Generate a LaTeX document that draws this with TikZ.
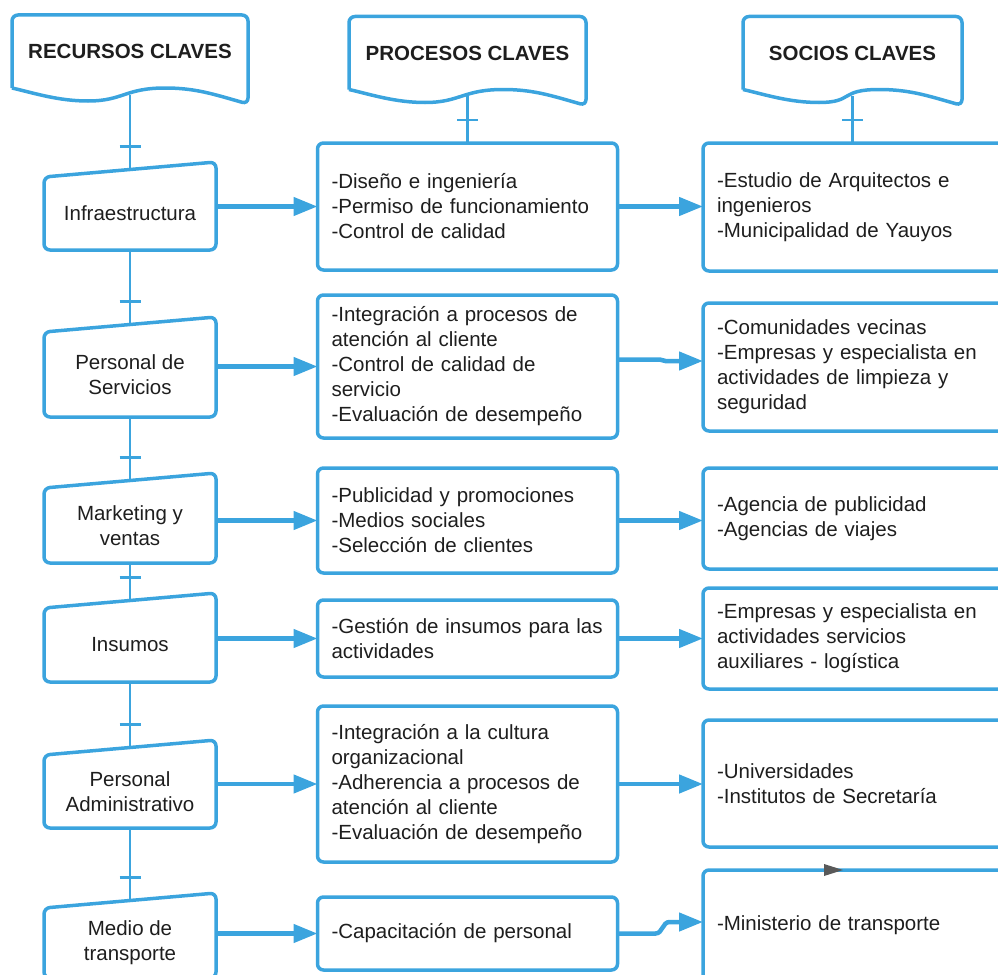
\documentclass[tikz,border=0pt]{standalone}
\usepackage{fontspec}
\setmainfont{Liberation Sans}
\usepackage{tikz}
\usetikzlibrary{arrows.meta, positioning, calc, decorations.markings}
\definecolor{keyblue}{HTML}{3BA4DE}
\definecolor{inkgray}{HTML}{1E1E1E}

\begin{document}
\begin{tikzpicture}[
    x=1pt, y=-1pt,
    font=\fontsize{20.5pt}{25pt}\selectfont,
    header/.style={rectangle, text=inkgray, font=\fontsize{20.5pt}{25pt}\selectfont\bfseries, minimum height=73pt, inner sep=0pt, outer sep=0pt},
    resource/.style={rectangle, text=inkgray, align=center, minimum width=172pt, inner sep=0pt, outer sep=0pt},
    box/.style={rectangle, draw=keyblue, line width=3.5pt, rounded corners=6pt, text=inkgray, align=left, inner xsep=14pt, inner ysep=0pt, outer sep=0pt},
    midbox/.style={box, text width=272pt},
    partnerbox/.style={box, text width=280pt},
    outline/.style={draw=keyblue, line width=3.5pt},
    tickline/.style={draw=keyblue, line width=2.5pt, postaction={decorate},
        decoration={markings, mark=at position -23pt with {\draw[keyblue, line width=2.5pt] (0,-10.5pt) -- (0,10.5pt);}}},
    arr/.style={draw=keyblue, line width=4.5pt, -{Triangle[length=24pt, width=18pt]}},
]
\useasboundingbox (0,0) rectangle (998,974);
\clip (0,0) rectangle (998,974);

% Column headers
\node[header, minimum width=236pt] (rec) at (130,51.5) {RECURSOS CLAVES};
\node[header, minimum width=237pt] (pro) at (467.5,53) {PROCESOS CLAVES};
\node[header, minimum width=219pt] (soc) at (852.5,53) {SOCIOS CLAVES};

% Key resources
\node[resource, minimum height=73pt] (l1) at (130,213.5) {Infraestructura};
\node[resource, minimum height=85pt] (l2) at (130,374.5) {Personal de\\Servicios};
\node[resource, minimum height=75pt] (l3) at (130,525.5) {Marketing y\\ventas};
\node[resource, minimum height=74pt] (l4) at (130,645) {Insumos};
\node[resource, minimum height=73pt] (l5) at (130,791.5) {Personal\\Administrativo};
\node[resource, minimum height=70pt] (l6) at (130,943) {Medio de\\transporte};

% Key processes
\node[midbox, minimum height=127pt] (m1) at (467.5,206.5) {-Diseño e ingeniería\\-Permiso de funcionamiento\\-Control de calidad};
\node[midbox, minimum height=143pt] (m2) at (467.5,366.5) {-Integración a procesos de\\atención al cliente\\-Control de calidad de\\servicio\\-Evaluación de desempeño};
\node[midbox, minimum height=105pt] (m3) at (467.5,520.5) {-Publicidad y promociones\\-Medios sociales\\-Selección de clientes};
\node[midbox, minimum height=77pt] (m4) at (467.5,638.5) {-Gestión de insumos para las\\actividades};
\node[midbox, minimum height=156pt] (m5) at (467.5,784) {-Integración a la cultura\\organizacional\\-Adherencia a procesos de\\atención al cliente\\-Evaluación de desempeño};
\node[midbox, minimum height=73pt] (m6) at (467.5,933.5) {-Capacitación de personal};

% Key partners
\node[partnerbox, minimum height=128pt] (r1) at (857,207) {-Estudio de Arquitectos e\\ingenieros\\-Municipalidad de Yauyos};
\node[partnerbox, minimum height=128pt] (r2) at (857,367) {-Comunidades vecinas\\-Empresas y especialista en\\actividades de limpieza y\\seguridad};
\node[partnerbox, minimum height=101pt] (r3) at (857,518.5) {-Agencia de publicidad\\-Agencias de viajes};
\node[partnerbox, minimum height=101pt] (r4) at (857,638.5) {-Empresas y especialista en\\actividades servicios\\auxiliares - logística};
\node[partnerbox, minimum height=127pt] (r5) at (857,783.5) {-Universidades\\-Institutos de Secretaría};
\node[partnerbox, minimum height=110pt] (r6) at (857,925) {-Ministerio de transporte};

% Document shapes
\foreach \h in {rec,pro,soc}
  \draw[outline] (\h.south west) [rounded corners=6pt] -- (\h.north west) -- (\h.north east) -- ($(\h.south east)+(0,16)$) [sharp corners]
    .. controls +(-35,-10) and +(30,0) .. ($(\h.south east)+(-83,0)$)
    .. controls +(-40,0) and +(35,0) .. ($(\h.south west)+(76,13)$)
    .. controls +(-30,0) and +(22,5) .. (\h.south west);

% Manual input shapes
\foreach \n in {l1,l2,l3,l4,l5,l6}
  \draw[outline, rounded corners=6pt] (\n.south west) -- (\n.north west) -- ($(\n.north east)+(0,-15)$) -- (\n.south east) -- cycle;

% Vertical links
\draw[tickline] ($(rec.south)+(0,7)$) -- ($(l1.north)+(0,-7.5)$);
\foreach \a/\b in {l1/l2,l2/l3,l3/l4,l4/l5,l5/l6}
  \draw[tickline] (\a.south) -- ($(\b.north)+(0,-7.5)$);
\draw[tickline] ($(pro.south)+(0,6)$) -- (m1.north);
\draw[tickline] ($(soc.south)+(0,6)$) -- (soc.south |- r1.north);

% Arrows
\foreach \i in {1,...,6}
  \draw[arr] (l\i.east |- m\i.west) -- (m\i.west);
\foreach \i in {1,3,4,5}
  \draw[arr] (m\i.east) -- (m\i.east -| r\i.west);
\draw[arr] ($(m2.east)+(0,-7)$) -- ++(42,0) to[out=0,in=180] ++(6,1.5) -- ($(r2.west)+(0,-6)$);
\draw[arr] (m6.east) -- ++(38,0) to[out=0,in=180] ++(14,-11.5) -- ($(r6.west)+(0,-3)$);

% stray tip on last box
\fill[black!65] ($(r6.north west)+(121,-6)$) -- ($(r6.north west)+(140,0)$) -- ($(r6.north west)+(121,6)$) -- cycle;

\end{tikzpicture}
\end{document}
